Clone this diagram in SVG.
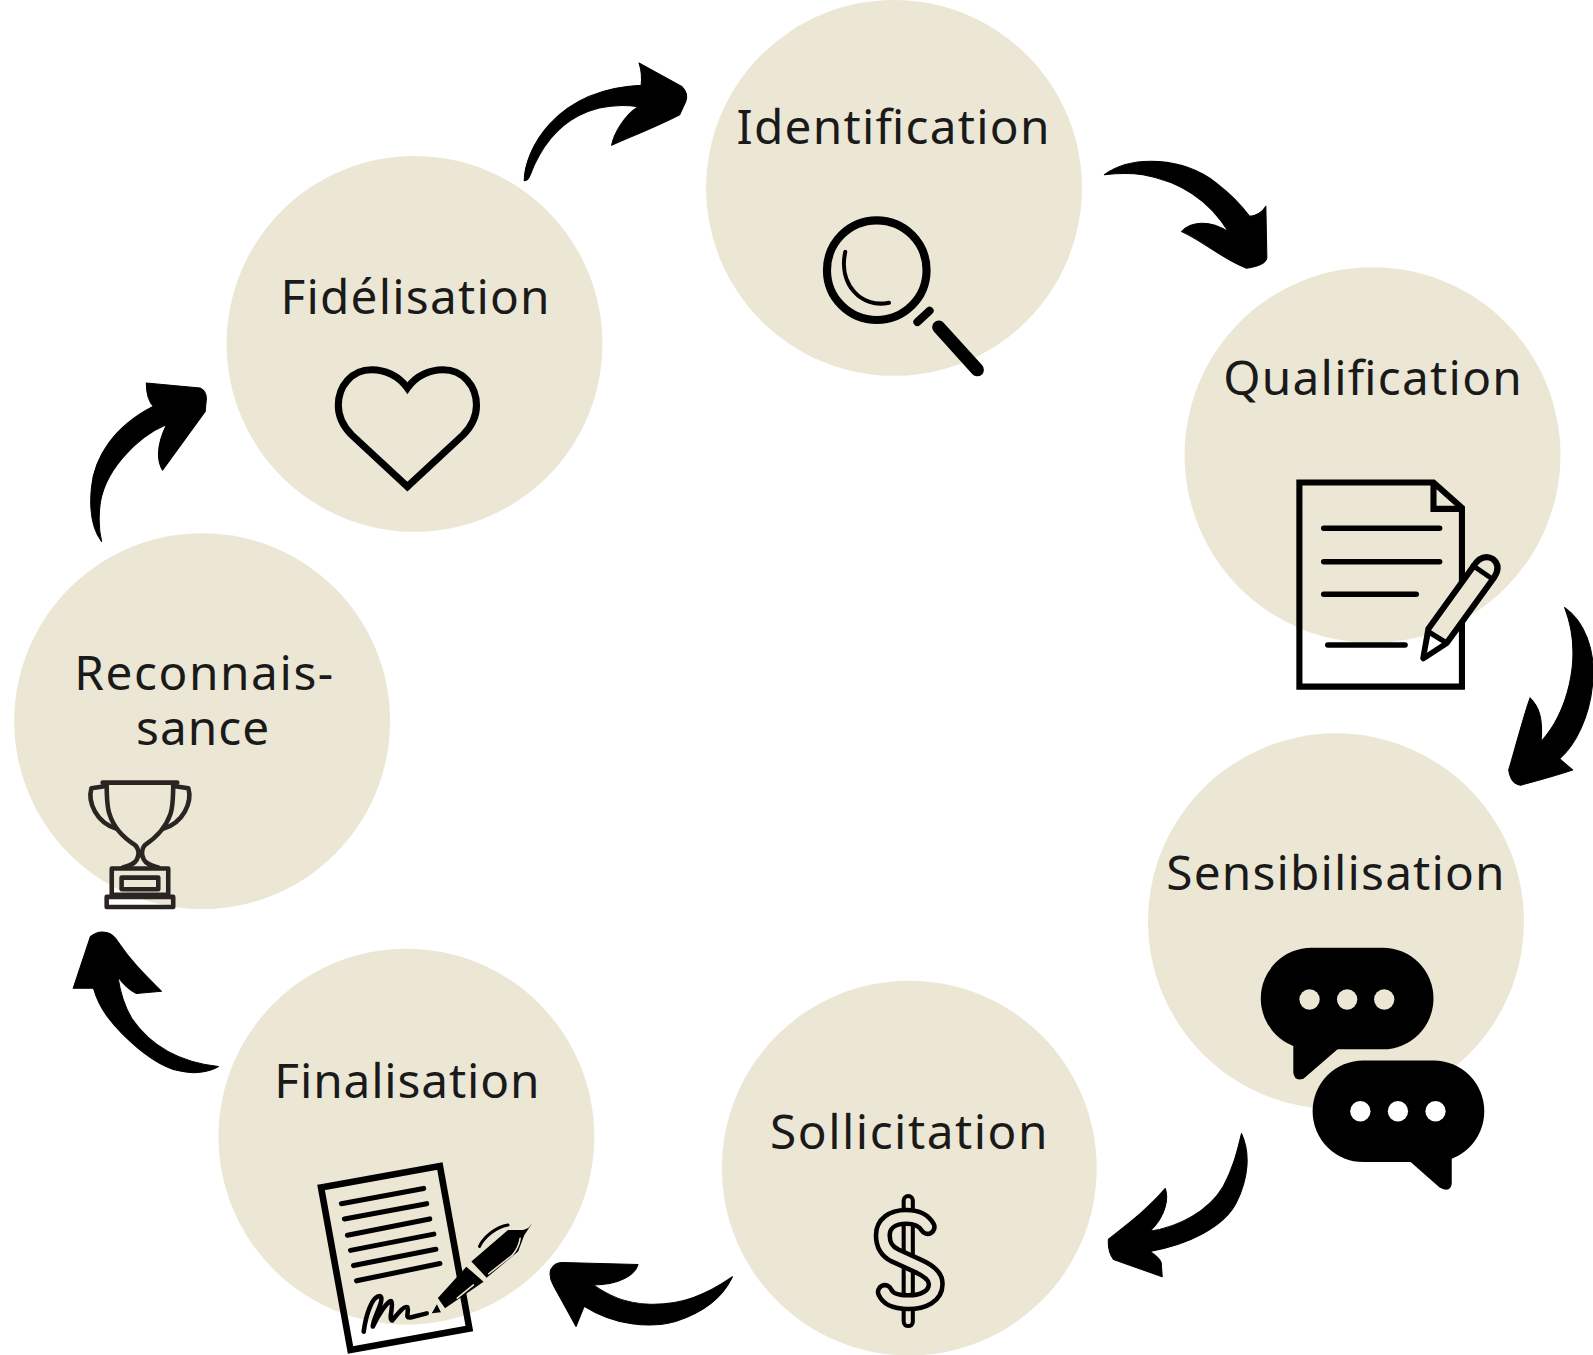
<svg xmlns="http://www.w3.org/2000/svg" width="1593" height="1355" viewBox="0 0 1593 1355">
<style>
.c{fill:#ece7d5}
.t{font-family:"Noto Sans","Open Sans",sans-serif;font-size:47px;fill:#1a1a1a;text-anchor:start}
.k{fill:none;stroke:#000;stroke-linecap:round;stroke-linejoin:round}
.a{fill:#000;stroke:#000;stroke-width:1;stroke-linejoin:round}
</style>
<rect width="1593" height="1355" fill="#fff"/>
<g transform="scale(1.01594 1.01574)">
<g id="identification">
<circle class="c" cx="880" cy="185" r="185"/>
<text class="t" x="725" y="142" textLength="308">Identification</text>
<circle class="k" cx="863" cy="266" r="49" stroke-width="8"/>
<path class="k" stroke-width="4" d="M832,248C825,280 848,304 875,298"/>
<path class="k" stroke-width="8" d="M903,317L915,306"/>
<path class="k" stroke-width="13" d="M924,322L962,364"/>
</g>
<g id="qualification">
<circle class="c" cx="1351" cy="448" r="185"/>
<text class="t" x="1204" y="389" textLength="294">Qualification</text>
<path fill="none" stroke="#000" stroke-width="6" d="M1279,475V676H1439V500L1411,475ZM1411,475V501H1439"/>
<g class="k" stroke-width="5.500"><path d="M1303,520H1417M1303,553H1417M1303,585H1394M1307,635H1383"/></g>
<path fill="#ece7d5" stroke="#000" stroke-width="6" stroke-linejoin="round" d="M1406,619L1450,558Q1458,545 1469,550Q1478,557 1471,568L1424,633L1401,648Z"/>
<path fill="#fff" stroke="#000" stroke-width="5" stroke-linejoin="round" d="M1406,622L1424,633L1401,648Z"/>
<path class="k" stroke-width="5" d="M1450,557L1469,570"/>
</g>
<g id="sensibilisation">
<circle class="c" cx="1315" cy="907" r="185"/>
<text class="t" x="1148" y="876" textLength="333">Sensibilisation</text>
<rect x="1241" y="933" width="170" height="100" rx="50" fill="#000"/>
<path d="M1273,1025V1056Q1274,1065 1283,1062L1320,1030Z" fill="#000"/>
<circle cx="1289" cy="984" r="10" fill="#ece7d5"/><circle cx="1326" cy="984" r="10" fill="#ece7d5"/><circle cx="1362.500" cy="984" r="10" fill="#ece7d5"/>
<rect x="1292" y="1044" width="169" height="100" rx="50" fill="#000"/>
<path d="M1384,1140L1417,1169Q1428,1175 1429,1165V1135Z" fill="#000"/>
<circle cx="1339" cy="1094" r="10" fill="#fff"/><circle cx="1376" cy="1094" r="10" fill="#fff"/><circle cx="1413" cy="1094" r="10" fill="#fff"/>
</g>
<g id="sollicitation">
<circle class="c" cx="895" cy="1150" r="184.500"/>
<text class="t" x="758" y="1131" textLength="273">Sollicitation</text>
<path fill="none" stroke="#000" stroke-width="13" stroke-linecap="round" d="M894,1182V1301"/>
<path fill="none" stroke="#ece7d5" stroke-width="5" stroke-linecap="round" d="M894,1182V1301"/>
<path fill="none" stroke="#000" stroke-width="18" stroke-linecap="round" stroke-linejoin="round" d="M913,1208C909,1201 902,1198 892,1198C878,1198 869,1205 869,1216C869,1226 873,1232 881,1236L903,1246C914,1251 921,1256 921,1264C921,1276 909,1282 894,1282C882,1282 874,1279 871,1272"/>
<path fill="none" stroke="#ece7d5" stroke-width="9" stroke-linecap="round" stroke-linejoin="round" d="M913,1208C909,1201 902,1198 892,1198C878,1198 869,1205 869,1216C869,1226 873,1232 881,1236L903,1246C914,1251 921,1256 921,1264C921,1276 909,1282 894,1282C882,1282 874,1279 871,1272"/>
</g>
<g id="finalisation">
<circle class="c" cx="400" cy="1119" r="185"/>
<text class="t" x="270" y="1081" textLength="261">Finalisation</text>
<path fill="none" stroke="#000" stroke-width="6.500" stroke-linejoin="miter" d="M316,1169L433,1148L462,1308L345,1329Z"/>
<g class="k" stroke-width="5"><path d="M336,1185L417,1170M339,1200L420,1185M342,1216L423,1200M345,1231L427,1215M348,1246L429,1230M351,1261L433,1244"/></g>
<path class="k" stroke-width="4.500" d="M358,1311C360,1295 366,1276 374,1276C380,1278 366,1300 367,1306C372,1295 382,1280 385,1281C388,1285 382,1298 386,1300C392,1293 398,1285 401,1287C403,1292 398,1298 404,1297L420,1293"/>
<path d="M431,1278L459,1247L476,1262L438,1288Z" fill="#000"/>
<path d="M464,1242L500,1211L515,1211L520,1209L524,1204L516,1216L510,1232L479,1258Z" fill="#000"/>
<path fill="none" stroke="#ece7d5" stroke-width="1.500" stroke-linecap="round" d="M481,1254L504,1236Q511,1228 512,1219M450,1278L466,1265"/>
<path class="k" stroke-width="3" d="M472,1227C476,1218 488,1208 500,1206"/>
<path d="M430,1284L434,1292L425,1293Z" fill="#000"/>
</g>
<g id="reconnaissance">
<circle class="c" cx="199" cy="710" r="185"/>
<text class="t"><tspan x="73" y="679" textLength="255">Reconnais-</tspan><tspan x="134" y="733" textLength="131">sance</tspan></text>
<g fill="none" stroke="#2a2522" stroke-width="4.500" stroke-linejoin="round" stroke-linecap="round">
<path d="M101,770.500H174.500M105,771C105,785 106,797 108,802C112,815 122,825 133,832C137,836 137,842 134.500,846.500C132,851 127,852 121,854M170.500,771C170.500,785 169.500,797 167.500,802C163,815 153,825 142.600,832C139,836 139,842 141.700,846.500C144,851 149,852 155.800,854"/>
<path d="M103,774L90,776C86,790 95,810 115,816M172.400,774L185.400,776C189.400,790 180.400,810 160.400,816"/>
<path d="M110,855H165.600V881H110ZM105,883H170.500V893H105ZM119.700,864H155.800V875.400H119.700Z"/>
</g>
</g>
<g id="fidelisation">
<circle class="c" cx="408" cy="338.500" r="185"/>
<text class="t" x="276" y="309" textLength="265">Fidélisation</text>
<path fill="none" stroke="#000" stroke-width="7" d="M401,382C392,369 378,364 366,364C346,364 333,380 333,399C333,411 338,420 346,428L401,479L456,428C464,420 469,411 469,399C469,380 456,364 436,364C424,364 410,369 401,382Z"/>
</g>
<g id="connectors">
<path class="a" d="M516,178C516,150 545,88 631,84C632,76 631,68 629,62L671,85Q678,92 675,100L669,113C650,123 625,133 602,143C604,132 614,114 628,105C590,100 545,112 522,172Q520,178 516,178Z"/>
<path class="a" d="M1087,172C1115,152 1165,155 1197,180C1210,190 1222,202 1230,213C1238,212 1243,208 1246,203L1247,254Q1245,262 1227,264C1205,256 1185,238 1163,228C1172,218 1190,216 1209,228C1195,205 1170,180 1125,172C1110,170 1097,171 1087,172Z"/>
<path class="a" d="M1540,598C1560,612 1570,640 1568,668C1566,705 1550,735 1535,747L1548,758C1530,764 1515,768 1497,773Q1487,772 1485,758C1492,735 1498,710 1506,687C1514,695 1519,705 1517,730C1540,705 1560,650 1540,598Z"/>
<path class="a" d="M1222,1116C1231,1135 1229,1160 1217,1184C1205,1208 1170,1225 1132,1232C1138,1236 1142,1240 1143,1243L1144,1257L1096,1240Q1090,1232 1091,1220C1110,1205 1130,1190 1147,1170C1150,1178 1149,1196 1132,1212C1160,1208 1190,1192 1204,1168C1214,1150 1218,1132 1222,1116Z"/>
<path class="a" d="M721,1257C710,1280 690,1293 665,1301C640,1308 605,1305 575,1286L567,1306L545,1266Q540,1258 542,1250Q546,1243 553,1243L628,1245C625,1255 610,1265 584,1265C600,1276 615,1283 640,1284C670,1285 695,1275 721,1257Z"/>
<path class="a" d="M215,1050C205,1056 190,1058 175,1054C150,1048 120,1020 105,1000C98,990 94,980 92,973L72,973L89,922Q96,916 105,918Q112,920 116,927C130,948 145,962 159,976L134,978C128,975 120,968 116,961C118,975 122,990 130,1003C145,1025 170,1045 215,1050Z"/>
<path class="a" d="M100,533C90,520 88,500 90,480C93,450 112,420 151,400C146,395 144,386 144,377L197,382Q204,386 203,394L202,405L160,463C155,455 153,440 164,418C135,430 100,465 98,502C97,515 98,525 100,533Z"/>
</g>
</g>
</svg>
